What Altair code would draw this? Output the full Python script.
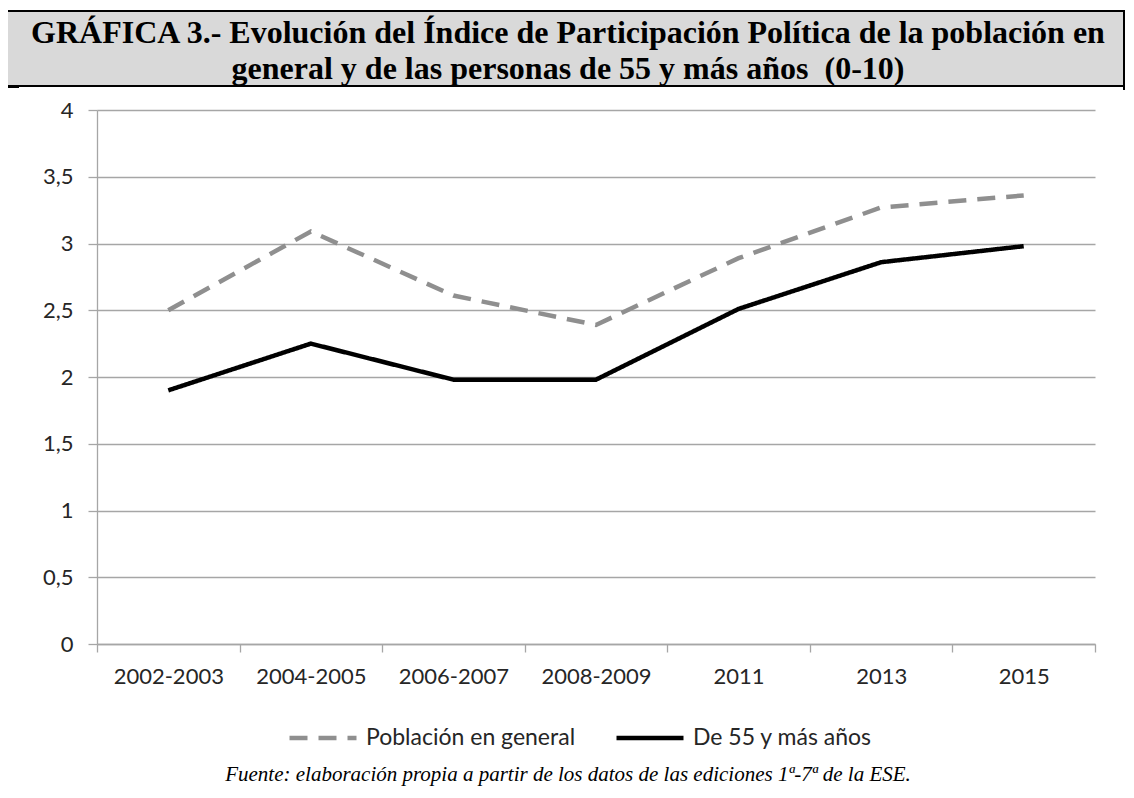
import altair as alt
import pandas as pd

categories = ["2002-2003", "2004-2005", "2006-2007", "2008-2009", "2011", "2013", "2015"]
poblacion_general = [2.50, 3.09, 2.61, 2.39, 2.89, 3.27, 3.36]
mayores_55 = [1.90, 2.25, 1.98, 1.98, 2.51, 2.86, 2.98]
series_names = ["Población en general", "De 55 y más años"]
y_ticks = [0, 0.5, 1, 1.5, 2, 2.5, 3, 3.5, 4]
title_lines = [
    "GRÁFICA 3.- Evolución del Índice de Participación Política de la población en",
    "general y de las personas de 55 y más años\u00a0\u00a0(0-10)",
]
source_text = "Fuente: elaboración propia a partir de los datos de las ediciones 1ª-7ª de la ESE."

rows = []
for c, a, b in zip(categories, poblacion_general, mayores_55):
    rows.append({"periodo": c, "serie": series_names[0], "valor": a})
    rows.append({"periodo": c, "serie": series_names[1], "valor": b})
df = pd.DataFrame(rows)
one = pd.DataFrame({"k": [0]})

W, H = 998, 534
GRID = "#a6a6a6"
FONT = "Lato"
TXT = "#262626"

legend = alt.Legend(
    title=None, orient="none", legendX=190, legendY=592, direction="horizontal",
    symbolType="stroke", symbolSize=4489, symbolStrokeWidth=4.5,
    labelFont=FONT, labelFontSize=23, labelColor=TXT, labelOffset=7,
    labelLimit=500, columnPadding=31, padding=0,
)

lines = alt.Chart(df).mark_line(strokeWidth=4.5, strokeCap="butt", strokeJoin="miter").encode(
    x=alt.X(
        "periodo:N", sort=categories,
        scale=alt.Scale(type="band", paddingInner=0, paddingOuter=0),
        axis=alt.Axis(
            title=None, labelAngle=0, tickBand="extent", grid=False,
            domainColor=GRID, domainWidth=1.3, tickColor=GRID, tickWidth=1.3, tickSize=8,
            labelFont=FONT, labelFontSize=22, labelColor=TXT, labelPadding=14,
        ),
    ),
    y=alt.Y(
        "valor:Q", scale=alt.Scale(domain=[0, 4], nice=False, zero=True),
        axis=alt.Axis(
            title=None, values=y_ticks, labelExpr="replace('' + datum.value, '.', ',')",
            grid=True, gridColor=GRID, gridWidth=1.3,
            domainColor=GRID, domainWidth=1.3, tickColor=GRID, tickWidth=1.3, tickSize=9,
            labelFont=FONT, labelFontSize=22, labelColor=TXT, labelPadding=15,
        ),
    ),
    color=alt.Color("serie:N", sort=series_names,
                    scale=alt.Scale(domain=series_names, range=["#8f8f8f", "#000000"]),
                    legend=legend),
    strokeDash=alt.StrokeDash("serie:N", sort=series_names,
                              scale=alt.Scale(domain=series_names, range=[[18, 11], [1, 0]]),
                              legend=legend),
)

box = alt.Chart(one).mark_rect(fill="#d9d9d9", stroke="#000000", strokeWidth=2).encode(
    x=alt.value(-92), x2=alt.value(1027), y=alt.value(-99), y2=alt.value(-24)
)
left_line = alt.Chart(one).mark_rule(color="#000000", strokeWidth=2.5).encode(
    x=alt.value(-91), y=alt.value(-24), y2=alt.value(700)
)
right_tick = alt.Chart(one).mark_rule(color="#000000", strokeWidth=2).encode(
    x=alt.value(1027), y=alt.value(-24), y2=alt.value(-20)
)
stub = alt.Chart(one).mark_rule(color="#000000", strokeWidth=2).encode(
    x=alt.value(-92), x2=alt.value(-78), y=alt.value(-23)
)

title1 = alt.Chart(one).mark_text(
    font="Liberation Serif", fontWeight="bold", fontSize=32, align="center",
    baseline="alphabetic", color="#000000"
).encode(x=alt.value(471), y=alt.value(-67), text=alt.value(title_lines[0]))
title2 = alt.Chart(one).mark_text(
    font="Liberation Serif", fontWeight="bold", fontSize=32, align="center",
    baseline="alphabetic", color="#000000"
).encode(x=alt.value(471), y=alt.value(-31), text=alt.value(title_lines[1]))
source = alt.Chart(one).mark_text(
    font="Liberation Serif", fontStyle="italic", fontSize=21, align="center",
    baseline="alphabetic", color="#000000"
).encode(x=alt.value(471), y=alt.value(671), text=alt.value(source_text))

chart = alt.layer(box, left_line, right_tick, stub, title1, title2, lines, source).properties(
    width=W, height=H,
    padding={"left": 89, "top": 102, "right": 31, "bottom": 144},
    autosize=alt.AutoSizeParams(type="none"),
    background="#ffffff",
).configure_view(strokeWidth=0)

chart.save("out.html", embed_options={"renderer": "svg", "actions": False})
